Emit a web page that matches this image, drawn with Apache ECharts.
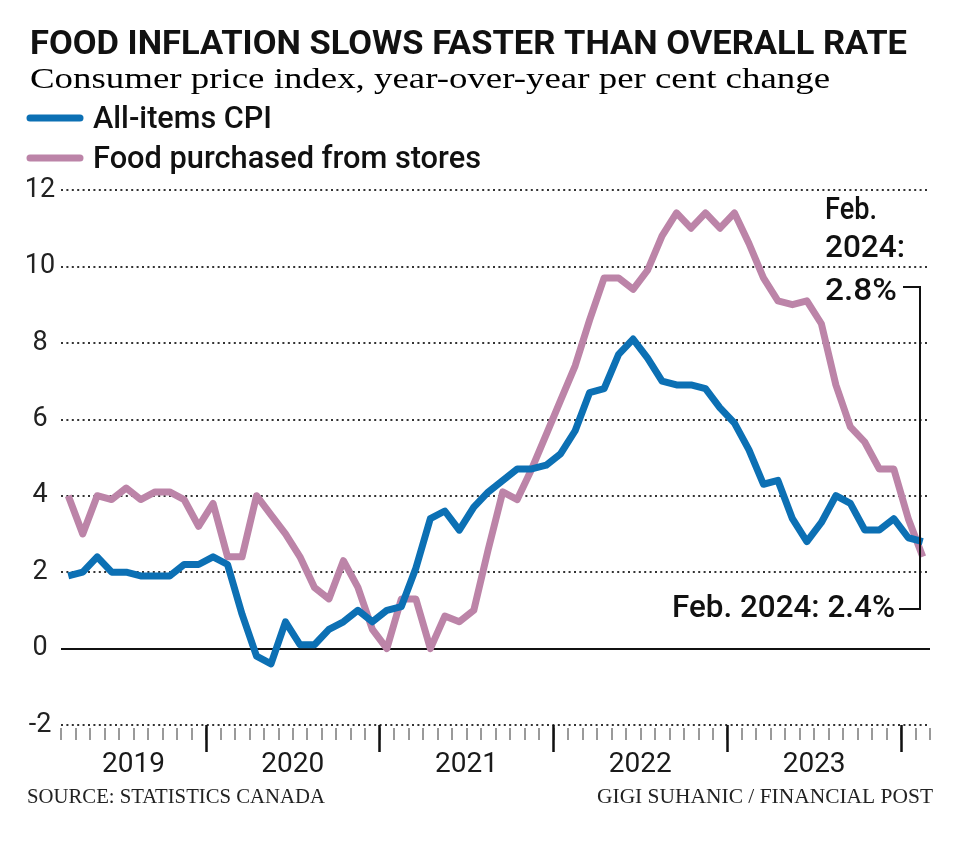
<!DOCTYPE html>
<html>
<head>
<meta charset="utf-8">
<script src="https://cdn.jsdelivr.net/npm/echarts@6/dist/echarts.min.js"></script>
<style>
html,body{margin:0;padding:0;background:#fff;}
#chart{width:960px;height:842px;}
</style>
</head>
<body>
<div id="chart"></div>
<script>
// ---- Data ----
const months = [
  '2019-03','2019-04','2019-05','2019-06','2019-07','2019-08','2019-09','2019-10','2019-11','2019-12',
  '2020-01','2020-02','2020-03','2020-04','2020-05','2020-06','2020-07','2020-08','2020-09','2020-10','2020-11','2020-12',
  '2021-01','2021-02','2021-03','2021-04','2021-05','2021-06','2021-07','2021-08','2021-09','2021-10','2021-11','2021-12',
  '2022-01','2022-02','2022-03','2022-04','2022-05','2022-06','2022-07','2022-08','2022-09','2022-10','2022-11','2022-12',
  '2023-01','2023-02','2023-03','2023-04','2023-05','2023-06','2023-07','2023-08','2023-09','2023-10','2023-11','2023-12',
  '2024-01','2024-02'
];
const cpiAllItems = [
  1.9,2.0,2.4,2.0,2.0,1.9,1.9,1.9,2.2,2.2,
  2.4,2.2,0.9,-0.2,-0.4,0.7,0.1,0.1,0.5,0.7,1.0,0.7,
  1.0,1.1,2.1,3.4,3.6,3.1,3.7,4.1,4.4,4.7,4.7,4.8,
  5.1,5.7,6.7,6.8,7.7,8.1,7.6,7.0,6.9,6.9,6.8,6.3,
  5.9,5.2,4.3,4.4,3.4,2.8,3.3,4.0,3.8,3.1,3.1,3.4,
  2.9,2.8
];
const foodFromStores = [
  4.0,3.0,4.0,3.9,4.2,3.9,4.1,4.1,3.9,3.2,
  3.8,2.4,2.4,4.0,3.5,3.0,2.4,1.6,1.3,2.3,1.6,0.5,
  0.0,1.3,1.3,0.0,0.85,0.7,1.0,2.6,4.1,3.9,4.7,5.6,
  6.5,7.4,8.6,9.7,9.7,9.4,9.9,10.8,11.4,11.0,11.4,11.0,
  11.4,10.6,9.7,9.1,9.0,9.1,8.5,6.9,5.8,5.4,4.7,4.7,
  3.4,2.4
];
const yearLabels = ['2019','2020','2021','2022','2023'];
const yTicks = [-2,0,2,4,6,8,10,12];
const seriesNames = ['All-items CPI','Food purchased from stores'];

// ---- Derived positions of year labels / major ticks (in month units) ----
const yearCenters = yearLabels.map(y => {
  const idx = months.map((m,i)=>m.startsWith(y)?i:-1).filter(i=>i>=0);
  return (idx[0] + idx[idx.length-1] + 1) / 2;
});
const yearStarts = months.map((m,i)=>m.endsWith('-01')?i:-1).filter(i=>i>=0);

const BLUE = '#0c70b4';
const PINK = '#bc84a8';
const SANS = "Roboto, 'Liberation Sans', sans-serif";
const SERIF = "'Liberation Serif', 'DejaVu Serif', serif";

const mctx = document.createElement('canvas').getContext('2d');
function measure(text, size, family, weight){
  mctx.font = (weight||'normal') + ' ' + size + 'px ' + family;
  return mctx.measureText(text).width;
}
function fitText(text, opts){
  const w = measure(text, opts.size, opts.family, opts.weight);
  const sx = opts.width ? opts.width / w : 1;
  return {
    type:'text', x: opts.x, y: opts.y, scaleX: sx, silent:true, z: 100,
    style:{
      text: text, x:0, y:0,
      fontSize: opts.size, fontFamily: opts.family, fontWeight: opts.weight||'normal',
      fill: opts.color||'#111', align: opts.align||'left', verticalAlign:'middle'
    }
  };
}

const chart = echarts.init(document.getElementById('chart'), null, {renderer:'canvas'});

const option = {
  animation:false,
  backgroundColor:'#fff',
  grid:{left:61, right:30, top:190, bottom:117, outerBoundsMode:'none'},
  xAxis:[
    {
      type:'category', data: months, boundaryGap:true, position:'bottom', offset:3,
      axisLine:{show:false, onZero:false},
      axisTick:{show:true, interval:0, length:12, lineStyle:{color:'#7a7a7a', width:1.5}},
      axisLabel:{show:false},
      splitLine:{show:false}
    },
    {
      type:'value', min:0, max:months.length, position:'bottom',
      axisLine:{show:false, onZero:false},
      splitLine:{show:false},
      axisTick:{show:true, customValues: yearStarts, length:27, lineStyle:{color:'#111', width:2.5}},
      axisLabel:{
        show:true, customValues: yearCenters, margin:26,
        fontSize:28, fontFamily:SANS, color:'#1a1a1a',
        formatter: function(v){ const i = yearCenters.indexOf(v); return i>=0 ? yearLabels[i] : ''; }
      }
    }
  ],
  yAxis:{
    type:'value', min:-2, max:12, interval:2,
    axisLine:{show:false}, axisTick:{show:false},
    axisLabel:{fontSize:27, fontFamily:SANS, color:'#222', align:'center', margin:21,
      formatter: v => yTicks.indexOf(v)>=0 ? String(v) : ''},
    splitLine:{show:true, lineStyle:{color:'#333', width:2, type:[2,3.4]}}
  },
  series:[
    {
      name: seriesNames[1], type:'line', xAxisIndex:0, data: foodFromStores,
      symbol:'none', lineStyle:{color:PINK, width:7, join:'round'}, itemStyle:{color:PINK},
      z:2,
      markLine:{
        silent:true, symbol:'none', label:{show:false},
        lineStyle:{color:'#111', width:2, type:'solid'},
        data:[{yAxis:0}], z:1
      }
    },
    {
      name: seriesNames[0], type:'line', xAxisIndex:0, data: cpiAllItems,
      symbol:'none', lineStyle:{color:BLUE, width:7, join:'round'}, itemStyle:{color:BLUE},
      z:3
    }
  ],
  graphic:[
    fitText('FOOD INFLATION SLOWS FASTER THAN OVERALL RATE',{x:30,y:45,size:34,family:SANS,weight:'bold',width:877,color:'#111'}),
    fitText('Consumer price index, year-over-year per cent change',{x:30,y:80,size:30,family:SERIF,width:800,color:'#000'}),
    {type:'line', silent:true, shape:{x1:30,y1:118,x2:80,y2:118}, style:{stroke:BLUE, lineWidth:7, lineCap:'round'}},
    {type:'line', silent:true, shape:{x1:30,y1:158,x2:80,y2:158}, style:{stroke:PINK, lineWidth:7, lineCap:'round'}},
    fitText(seriesNames[0],{x:93,y:120,size:32,family:SANS,weight:'500',width:179,color:'#111'}),
    fitText(seriesNames[1],{x:93,y:160,size:32,family:SANS,weight:'500',width:388,color:'#111'}),
    fitText('Feb.',{x:825,y:211,size:32,family:SANS,weight:'500',width:52,color:'#111'}),
    fitText('2024:',{x:825,y:249,size:32,family:SANS,weight:'500',width:80,color:'#111'}),
    fitText('2.8%',{x:825,y:292,size:32,family:SANS,weight:'500',width:72,color:'#111'}),
    fitText('Feb. 2024: 2.4%',{x:895,y:609,size:32,family:SANS,weight:'500',width:223,color:'#111',align:'right'}),
    {type:'polyline', silent:true, z:99, shape:{points:[[903,287],[920,287],[920,609],[899,609]]},
      style:{stroke:'#111', lineWidth:2, fill:null}},
    fitText('SOURCE: STATISTICS CANADA',{x:27,y:797,size:22,family:SERIF,width:298,color:'#222'}),
    fitText('GIGI SUHANIC / FINANCIAL POST',{x:933,y:797,size:22,family:SERIF,width:336,color:'#222',align:'right'})
  ]
};
chart.setOption(option);
</script>
</body>
</html>
